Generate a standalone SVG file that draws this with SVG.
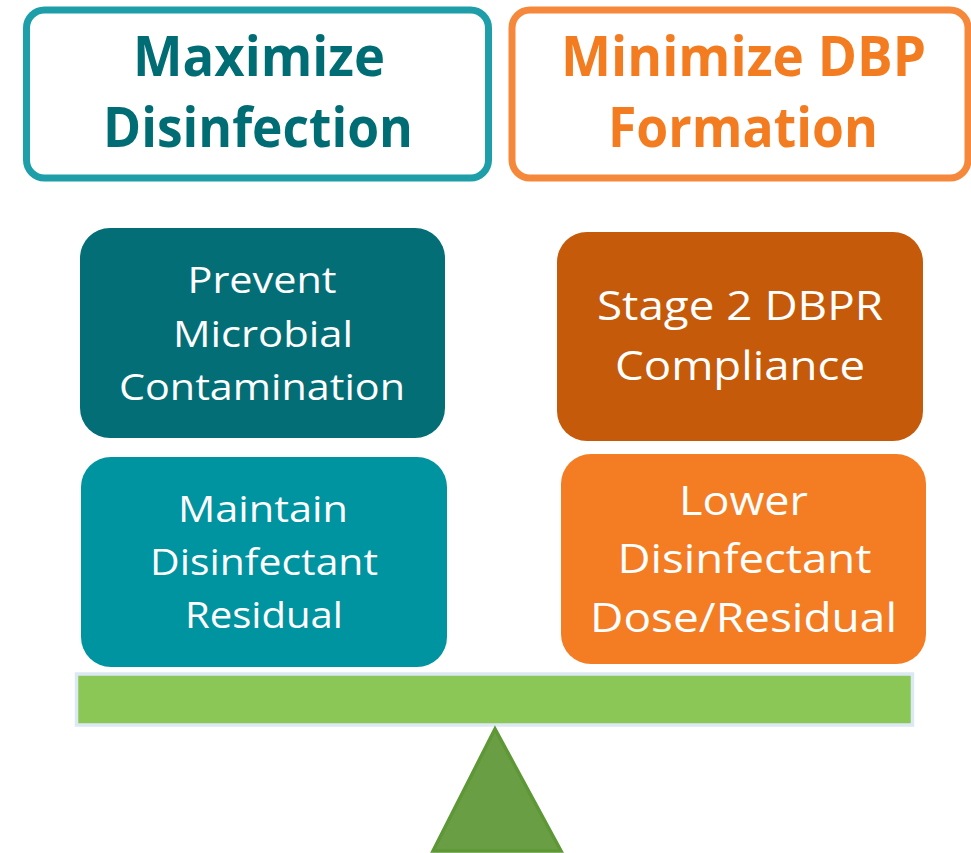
<svg xmlns="http://www.w3.org/2000/svg" width="971" height="853" viewBox="0 0 971 853">
<style>
.hdr{font-family:"Open Sans","Liberation Sans",sans-serif;font-weight:bold;font-size:55px;text-anchor:middle}
.body{font-family:"Open Sans","Liberation Sans",sans-serif;font-size:37px;fill:#ffffff;text-anchor:middle}
.bodyR{font-family:"Open Sans","Liberation Sans",sans-serif;font-size:41px;fill:#ffffff;text-anchor:middle}
</style>
<rect width="971" height="853" fill="#ffffff"/>
<g id="maximize">
<rect x="26.5" y="10" width="462" height="168" rx="18" fill="#ffffff" stroke="#1e9ea8" stroke-width="7"/>
<text class="hdr" fill="#006d75" x="259" y="76" textLength="252" lengthAdjust="spacingAndGlyphs">Maximize</text>
<text class="hdr" fill="#006d75" x="258" y="147" textLength="310" lengthAdjust="spacingAndGlyphs">Disinfection</text>
</g>
<g id="minimize">
<rect x="512" y="10" width="456" height="168" rx="18" fill="#ffffff" stroke="#f5883a" stroke-width="7"/>
<text class="hdr" fill="#f47c20" x="743.5" y="76" textLength="365" lengthAdjust="spacingAndGlyphs">Minimize DBP</text>
<text class="hdr" fill="#f47c20" x="743" y="147" textLength="270" lengthAdjust="spacingAndGlyphs">Formation</text>
</g>
<g id="prevent">
<rect x="80" y="228" width="365" height="210" rx="30" fill="#036e76"/>
<text class="body" x="262" y="293" textLength="149" lengthAdjust="spacingAndGlyphs">Prevent</text>
<text class="body" x="263" y="347" textLength="180" lengthAdjust="spacingAndGlyphs">Microbial</text>
<text class="body" x="262" y="400" textLength="286" lengthAdjust="spacingAndGlyphs">Contamination</text>
</g>
<g id="maintain">
<rect x="81" y="457" width="366" height="210" rx="30" fill="#0093a0"/>
<text class="body" x="263" y="522" textLength="170" lengthAdjust="spacingAndGlyphs">Maintain</text>
<text class="body" x="264" y="575" textLength="228" lengthAdjust="spacingAndGlyphs">Disinfectant</text>
<text class="body" x="264" y="628" textLength="158" lengthAdjust="spacingAndGlyphs">Residual</text>
</g>
<g id="stage2">
<rect x="557" y="232" width="366" height="209" rx="30" fill="#c55a0a"/>
<text class="bodyR" x="740" y="320" textLength="286" lengthAdjust="spacingAndGlyphs">Stage 2 DBPR</text>
<text class="bodyR" x="740" y="380" textLength="250" lengthAdjust="spacingAndGlyphs">Compliance</text>
</g>
<g id="lower">
<rect x="561" y="454" width="365" height="210" rx="30" fill="#f47c22"/>
<text class="bodyR" x="743.5" y="515" textLength="129" lengthAdjust="spacingAndGlyphs">Lower</text>
<text class="bodyR" x="744.5" y="573" textLength="254" lengthAdjust="spacingAndGlyphs">Disinfectant</text>
<text class="bodyR" x="743.5" y="632" textLength="307" lengthAdjust="spacingAndGlyphs">Dose/Residual</text>
</g>
<g id="beam">
<rect x="76.5" y="674" width="836" height="51" fill="#8bc756" stroke="#dce9f5" stroke-width="3.5"/>
</g>
<g id="fulcrum">
<polygon points="495,729 433,851 561,851" fill="#6a9e44" stroke="#5e9836" stroke-width="3.5" stroke-linejoin="miter"/>
</g>
<g id="connectors"></g>
</svg>
